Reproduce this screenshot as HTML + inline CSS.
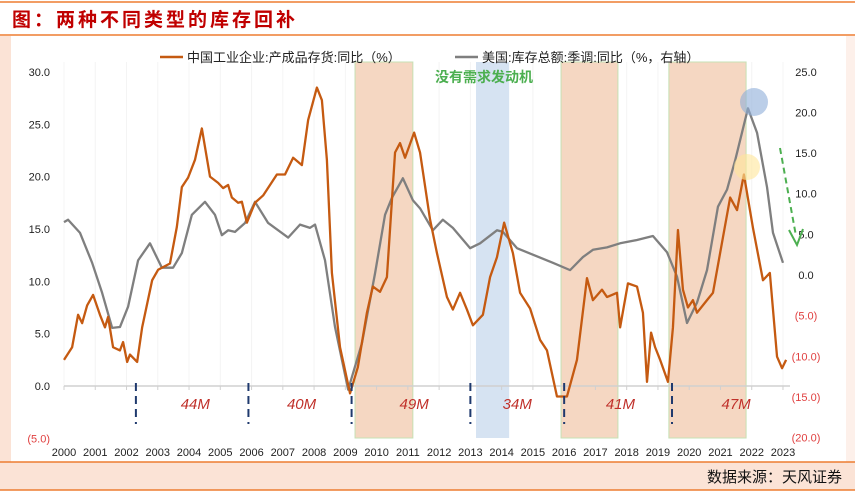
<!DOCTYPE html>
<html><head><meta charset="utf-8"><style>
body{margin:0;width:855px;height:495px;overflow:hidden;background:#fff;font-family:"Liberation Sans","Noto Sans CJK SC",sans-serif}
</style></head><body>
<svg id="chart" width="855" height="495" viewBox="0 0 855 495" xmlns="http://www.w3.org/2000/svg" style="font-family:'Liberation Sans','Noto Sans CJK SC',sans-serif">
<rect x="0" y="0" width="855" height="495" fill="#fff"/>
<line x1="0" y1="2" x2="855" y2="2" stroke="#ed7d31" stroke-width="1.5"/>
<text x="12" y="26" font-size="19" font-weight="bold" fill="#c00000" letter-spacing="3">图：两种不同类型的库存回补</text>
<line x1="0" y1="35" x2="855" y2="35" stroke="#ed7d31" stroke-width="1.5"/>
<rect x="0" y="36" width="11" height="426" fill="#fbe3d6"/>
<rect x="846" y="36" width="9" height="426" fill="#fdf0ea"/>
<rect x="0" y="462" width="855" height="28" fill="#fbe3d6"/>
<line x1="0" y1="462" x2="855" y2="462" stroke="#ed7d31" stroke-width="1.5"/>
<line x1="0" y1="490" x2="855" y2="490" stroke="#ed7d31" stroke-width="1.5"/>
<text x="842" y="482" font-size="15" text-anchor="end" fill="#111">数据来源：天风证券</text>
<g id="grid"></g>
<g id="shades"></g>
<g id="axes"></g>
<g id="series"></g>
<g id="annot"></g>
</svg>
<script>
const yearLabels=["2000","2001","2002","2003","2004","2005","2006","2007","2008","2009","2010","2011","2012","2013","2014","2015","2016","2017","2018","2019","2020","2021","2022","2023"];
const leftTicks=[30,25,20,15,10,5,0,-5];
const rightTicks=[25,20,15,10,5,0,-5,-10,-15,-20];
const cnDates=[2000.0,2000.26,2000.45,2000.58,2000.74,2000.93,2001.15,2001.31,2001.41,2001.57,2001.79,2001.89,2002.02,2002.11,2002.34,2002.5,2002.82,2003.01,2003.39,2003.61,2003.77,2003.97,2004.19,2004.41,2004.67,2004.93,2005.09,2005.25,2005.37,2005.57,2005.69,2005.85,2006.11,2006.37,2006.81,2007.07,2007.33,2007.61,2007.81,2008.09,2008.25,2008.41,2008.57,2008.83,2009.15,2009.4,2009.69,2009.88,2010.11,2010.33,2010.59,2010.75,2010.91,2011.2,2011.39,2011.71,2011.93,2012.25,2012.44,2012.67,2012.89,2013.08,2013.4,2013.63,2013.85,2014.08,2014.36,2014.59,2014.91,2015.23,2015.45,2015.77,2016.09,2016.41,2016.73,2016.92,2017.21,2017.37,2017.69,2017.79,2018.04,2018.33,2018.52,2018.65,2018.78,2018.91,2019.07,2019.32,2019.48,2019.64,2019.8,2019.96,2020.12,2020.25,2020.57,2020.76,2021.08,2021.31,2021.53,2021.75,2022.04,2022.36,2022.58,2022.81,2022.97,2023.1];
const cnValues=[2.5,3.7,6.8,6.0,7.7,8.7,6.8,5.6,6.6,3.7,3.4,4.2,2.3,3.0,2.3,5.6,10.1,11.1,11.7,15.2,19.0,19.9,21.6,24.6,20.0,19.4,18.9,19.2,18.0,17.5,17.6,15.6,17.5,18.2,20.2,20.2,21.8,21.1,25.4,28.5,27.3,21.6,10.8,3.7,-0.7,1.8,7.0,9.5,9.0,10.4,22.3,23.2,21.8,24.2,22.3,15.9,12.7,8.5,7.3,8.9,7.3,5.8,6.8,10.4,12.3,15.6,12.7,8.9,7.4,4.4,3.4,-1.0,-1.0,2.5,10.3,8.2,9.2,8.5,8.9,5.6,9.8,9.5,7.0,0.4,5.1,3.7,2.5,0.4,5.6,14.9,9.2,7.5,8.2,7.0,8.2,8.9,14.2,18.0,16.8,20.2,15.1,10.1,10.8,2.8,1.7,2.5];
const usDates=[2000.0,2000.13,2000.51,2000.9,2001.22,2001.54,2001.79,2002.05,2002.37,2002.75,2003.13,2003.49,2003.77,2004.09,2004.51,2004.83,2005.05,2005.25,2005.47,2005.79,2006.11,2006.53,2007.17,2007.55,2007.87,2008.03,2008.35,2008.67,2009.09,2009.53,2009.95,2010.27,2010.49,2010.84,2011.16,2011.39,2011.8,2012.12,2012.44,2012.99,2013.31,2013.85,2014.04,2014.49,2015.0,2015.64,2016.19,2016.6,2016.92,2017.37,2017.79,2018.33,2018.84,2019.29,2019.61,2019.93,2020.25,2020.57,2020.92,2021.21,2021.47,2021.88,2022.17,2022.49,2022.68,2023.0];
const usValues=[6.5,6.8,5.2,1.5,-2.2,-6.5,-6.4,-3.9,1.8,3.9,0.9,0.9,2.7,7.4,9.0,7.4,4.9,5.5,5.3,6.4,9.0,6.4,4.6,6.2,5.8,6.2,1.8,-6.4,-14.1,-8.4,0.2,7.4,9.5,11.9,9.2,8.2,5.5,6.8,5.8,3.3,3.9,5.5,5.3,3.3,2.5,1.5,0.6,2.2,3.1,3.4,3.9,4.3,4.8,2.8,-0.2,-5.9,-3.4,0.6,8.4,10.5,14.1,20.5,17.5,10.8,5.2,1.5];
const shadeStarts=[2009.31,2013.18,2015.9,2019.35];
const shadeEnds=[2011.16,2014.24,2017.72,2021.82];
const shadeColors=["#f5d7c2","#d6e3f2","#f5d7c2","#f5d7c2"];
const cycleMarks=[2002.3,2005.9,2009.2,2013.0,2016.0,2019.45];
const cycleLabels=["44M","40M","49M","34M","41M","47M"];
const cycleLabelYears=[2004.2,2007.6,2011.2,2014.5,2017.8,2021.5];

const NS="http://www.w3.org/2000/svg";
const xs=y=>64+(y-2000)*31.26;
const yl=v=>386-v*10.47;
const yr=v=>275-v*8.13;
function mk(tag,attrs,parent,text){const e=document.createElementNS(NS,tag);for(const k in attrs)e.setAttribute(k,attrs[k]);if(text!==undefined)e.textContent=text;document.getElementById(parent).appendChild(e);return e;}

shadeStarts.forEach((s,i)=>{
 const r=mk('rect',{x:xs(s),y:62,width:xs(shadeEnds[i])-xs(s),height:376,fill:shadeColors[i],stroke:i==1?'none':'#c6e0b4','stroke-width':1},'shades');
 
 
});
yearLabels.forEach((l,i)=>{
 const x=xs(2000+i);
 const g=mk('line',{x1:x,y1:62,x2:x,y2:386,stroke:'#f4f4f4','stroke-width':1},'grid');
 const t=mk('line',{x1:x,y1:386,x2:x,y2:390,stroke:'#d0d0d0','stroke-width':1},'axes');
 const tx=mk('text',{x:x,y:456,'font-size':11,'text-anchor':'middle',fill:'#222'},'axes',l);
 
 
});
const ax=mk('line',{x1:64,y1:386,x2:790,y2:386,stroke:'#d0d0d0','stroke-width':1.5},'axes');


leftTicks.forEach(v=>{
 const t=mk('text',{x:50,y:yl(v)+4,'font-size':11,'text-anchor':'end',fill:v<0?'#e04040':'#222'},'axes',v<0?'('+Math.abs(v).toFixed(1)+')':v.toFixed(1));
 
 
});
rightTicks.forEach(v=>{
 const t=mk('text',{x:806,y:yr(v)+4,'font-size':11,'text-anchor':'middle',fill:v<0?'#e04040':'#222'},'axes',v<0?'('+Math.abs(v).toFixed(1)+')':v.toFixed(1));
 
 
});
cycleMarks.forEach(y=>{
 const l=mk('line',{x1:xs(y),y1:383,x2:xs(y),y2:424,stroke:'#1f3a6e','stroke-width':2,'stroke-dasharray':'8,5'},'annot');
 
 
});
cycleLabels.forEach((s,i)=>{
 const t=mk('text',{x:xs(cycleLabelYears[i]),y:409,'font-size':15,'font-style':'italic','text-anchor':'middle',fill:'#c0302a'},'annot',s);
 
 
});
const usPath=mk('polyline',{points:usDates.map((d,i)=>xs(d)+','+yr(usValues[i])).join(' '),fill:'none',stroke:'#7f7f7f','stroke-width':2.3,'stroke-linejoin':'round'},'series');


const cnPath=mk('polyline',{points:cnDates.map((d,i)=>xs(d)+','+yl(cnValues[i])).join(' '),fill:'none',stroke:'#c55a11','stroke-width':2.3,'stroke-linejoin':'round'},'series');


</script>
<svg style="position:absolute;left:0;top:0" width="855" height="495" xmlns="http://www.w3.org/2000/svg" font-family="'Liberation Sans','Noto Sans CJK SC',sans-serif">
<g>
<line x1="160" y1="57" x2="183" y2="57" stroke="#c55a11" stroke-width="2.5"/>
<text x="187" y="62" font-size="13" fill="#222">中国工业企业:产成品存货:同比（%）</text></g>
<g>
<line x1="455" y1="57" x2="478" y2="57" stroke="#7f7f7f" stroke-width="2.5"/>
<text x="482" y="62" font-size="13" fill="#222">美国:库存总额:季调:同比（%，右轴）</text></g>
<text x="435" y="82" font-size="14" font-weight="bold" fill="#4caf50">没有需求发动机</text>
<circle cx="754" cy="102" r="14" fill="#8eaed8" opacity="0.6"/>
<circle cx="747" cy="167" r="13" fill="#ffe699" opacity="0.6"/>
<g>
<line x1="780" y1="148" x2="796" y2="236" stroke="#4caf50" stroke-width="2" stroke-dasharray="6,4"/>
<polyline points="789,230 797,245 803,229" fill="none" stroke="#4caf50" stroke-width="2"/></g>
</svg>
</body></html>
